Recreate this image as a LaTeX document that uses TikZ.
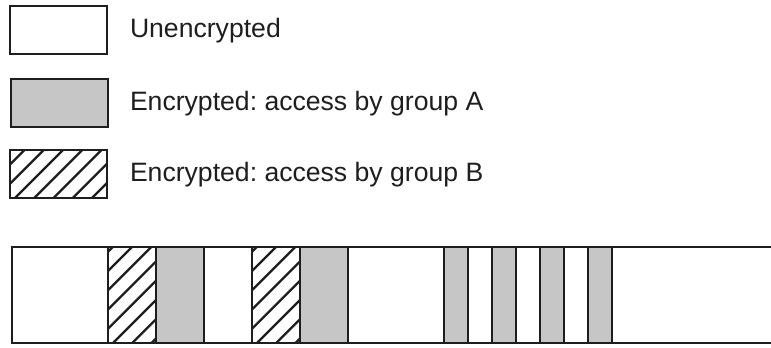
\documentclass[tikz,border=0pt]{standalone}
\usepackage{fontspec}
\setmainfont{Liberation Sans}
\frenchspacing
\definecolor{cellgray}{RGB}{198,198,198}
\definecolor{ink}{RGB}{30,30,30}
\tikzset{
  cell/.style={rectangle, draw=ink, line width=2.8pt, inner sep=0pt, outer sep=0pt,
    anchor=north west, minimum height=#1},
  cell/.default=96pt,
  plain/.style={fill=white},
  grayfill/.style={fill=cellgray},
  hatchfill/.style={fill=white, path picture={
      \foreach \k in {-6,...,6}
        \draw[ink, line width=2.2pt]
          ([xshift={5pt+\k*19.25pt}]path picture bounding box.south west) -- ++(130pt,130pt);
    }},
  label/.style={anchor=base west, inner sep=0pt, outer sep=0pt, text=ink,
    font=\fontsize{26.6}{30}\selectfont},
  edge/.style={draw=ink, line width=2.8pt}
}
\begin{document}
\begin{tikzpicture}[x=1pt, y=-1pt]
\useasboundingbox (0,0) rectangle (771,348);
% legend
\node[cell=48pt, plain, minimum width=97pt] (l1) at (10,6) {};
\node[cell=48pt, grayfill, minimum width=97pt] (l2) at (11,79) {};
\node[cell=48pt, hatchfill, minimum width=97pt] (l3) at (10,150) {};
\node[label] (t1) at (130,37.5) {Unencrypted};
\node[label] (t2) at (130,110) {Encrypted: access by group A};
\node[label] (t3) at (130,181.5) {Encrypted: access by group B};
% bar
\node[cell, plain, minimum width=96pt] (c1) at (12,247) {};
\node[cell, hatchfill, minimum width=48pt] (c2) at (108,247) {};
\node[cell, grayfill, minimum width=48pt] (c3) at (156,247) {};
\node[cell, plain, minimum width=48pt] (c4) at (204,247) {};
\node[cell, hatchfill, minimum width=48pt] (c5) at (252,247) {};
\node[cell, grayfill, minimum width=48pt] (c6) at (300,247) {};
\node[cell, plain, minimum width=96pt] (c7) at (348,247) {};
\node[cell, grayfill, minimum width=24pt] (c8) at (444,247) {};
\node[cell, plain, minimum width=24pt] (c9) at (468,247) {};
\node[cell, grayfill, minimum width=24pt] (c10) at (492,247) {};
\node[cell, plain, minimum width=24pt] (c11) at (516,247) {};
\node[cell, grayfill, minimum width=24pt] (c12) at (540,247) {};
\node[cell, plain, minimum width=24pt] (c13) at (564,247) {};
\node[cell, grayfill, minimum width=24pt] (c14) at (588,247) {};
\coordinate (endtop) at (775,247);
\coordinate (endbot) at (775,343);
\draw[edge] (c14.north east) -- (endtop);
\draw[edge] (c14.south east) -- (endbot);
\end{tikzpicture}
\end{document}
